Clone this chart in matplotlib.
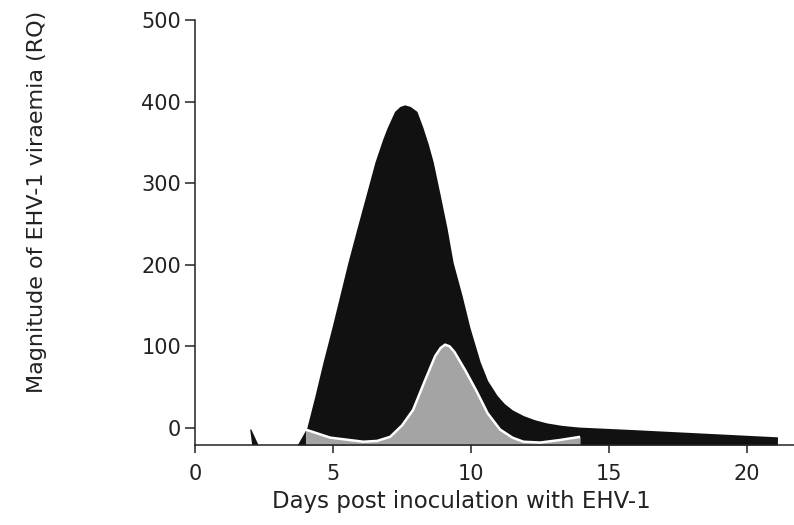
import matplotlib.pyplot as plt

# total EHV-1 viraemia (black area)
total_days = [3.7, 4.05, 4.35, 4.64, 4.96, 5.25, 5.54, 5.87, 6.2, 6.52, 6.8, 6.96, 7.23,
              7.42, 7.6, 7.8, 8.04, 8.26, 8.45, 8.63, 8.88, 9.13, 9.35, 9.67, 9.96,
              10.33, 10.6, 10.94, 11.2, 11.5, 11.9, 12.3, 12.75, 13.3, 13.9, 15.8, 21.1]
total_rq = [-21, 0, 40, 81, 123, 163, 203, 245, 286, 326, 354, 368, 388,
            394, 396, 394, 388, 368, 348, 326, 286, 245, 203, 163, 123,
            81, 58, 40, 30, 22, 15, 10, 6, 3, 1, -2, -11]

# PBMC-associated viraemia (grey area)
pbmc_days = [4.0, 4.9, 6.1, 6.6, 7.07, 7.5, 7.9, 8.33, 8.7, 8.9, 9.06, 9.22, 9.4,
             9.8, 10.2, 10.6, 11.05, 11.5, 11.9, 12.5, 13.2, 13.95]
pbmc_rq = [-2, -12, -17, -16, -11, 3, 22, 58, 88, 98, 102, 100, 93,
           70, 45, 18, -2, -12, -17, -18, -15, -11]

# small early blip
blip_days = [2.07, 2.0, 2.04, 2.3]
blip_rq = [-21, -2, -2, -21]

x_ticks = [0, 5, 10, 15, 20]
y_ticks = [0, 100, 200, 300, 400, 500]
y_min = -21

fig = plt.figure(figsize=(7.94, 5.25), dpi=100)
ax = fig.add_axes([0.2456, 0.1524, 0.7544, 0.8095])

ax.fill_between(total_days, total_rq, y_min, color='#111111', lw=0)
ax.fill(blip_days, blip_rq, color='#111111', lw=0)
ax.fill_between(pbmc_days, pbmc_rq, y_min, color='#a4a4a4', lw=0)
ax.plot(pbmc_days, pbmc_rq, color='white', lw=1.8, solid_capstyle='butt',
        solid_joinstyle='round')

ax.set_xlim(0, 21.7)
ax.set_ylim(y_min, 500)
ax.set_xticks(x_ticks)
ax.set_yticks(y_ticks)

for s in ['top', 'right']:
    ax.spines[s].set_visible(False)
for s in ['left', 'bottom']:
    ax.spines[s].set_linewidth(1.1)
    ax.spines[s].set_color('#222222')

ax.tick_params(axis='y', length=7, width=1.1, pad=3, labelsize=15, colors='#222222')
ax.tick_params(axis='x', length=6, width=1.1, pad=8, labelsize=15, colors='#222222')

ax.set_ylabel('Magnitude of EHV-1 viraemia (RQ)', fontsize=16, color='#222222')
ax.set_xlabel('Days post inoculation with EHV-1', fontsize=16.5, color='#222222')
ax.yaxis.set_label_coords(-0.247, 0.572)
ax.xaxis.set_label_coords(0.444, -0.106)

plt.savefig('out.png', dpi=100)
